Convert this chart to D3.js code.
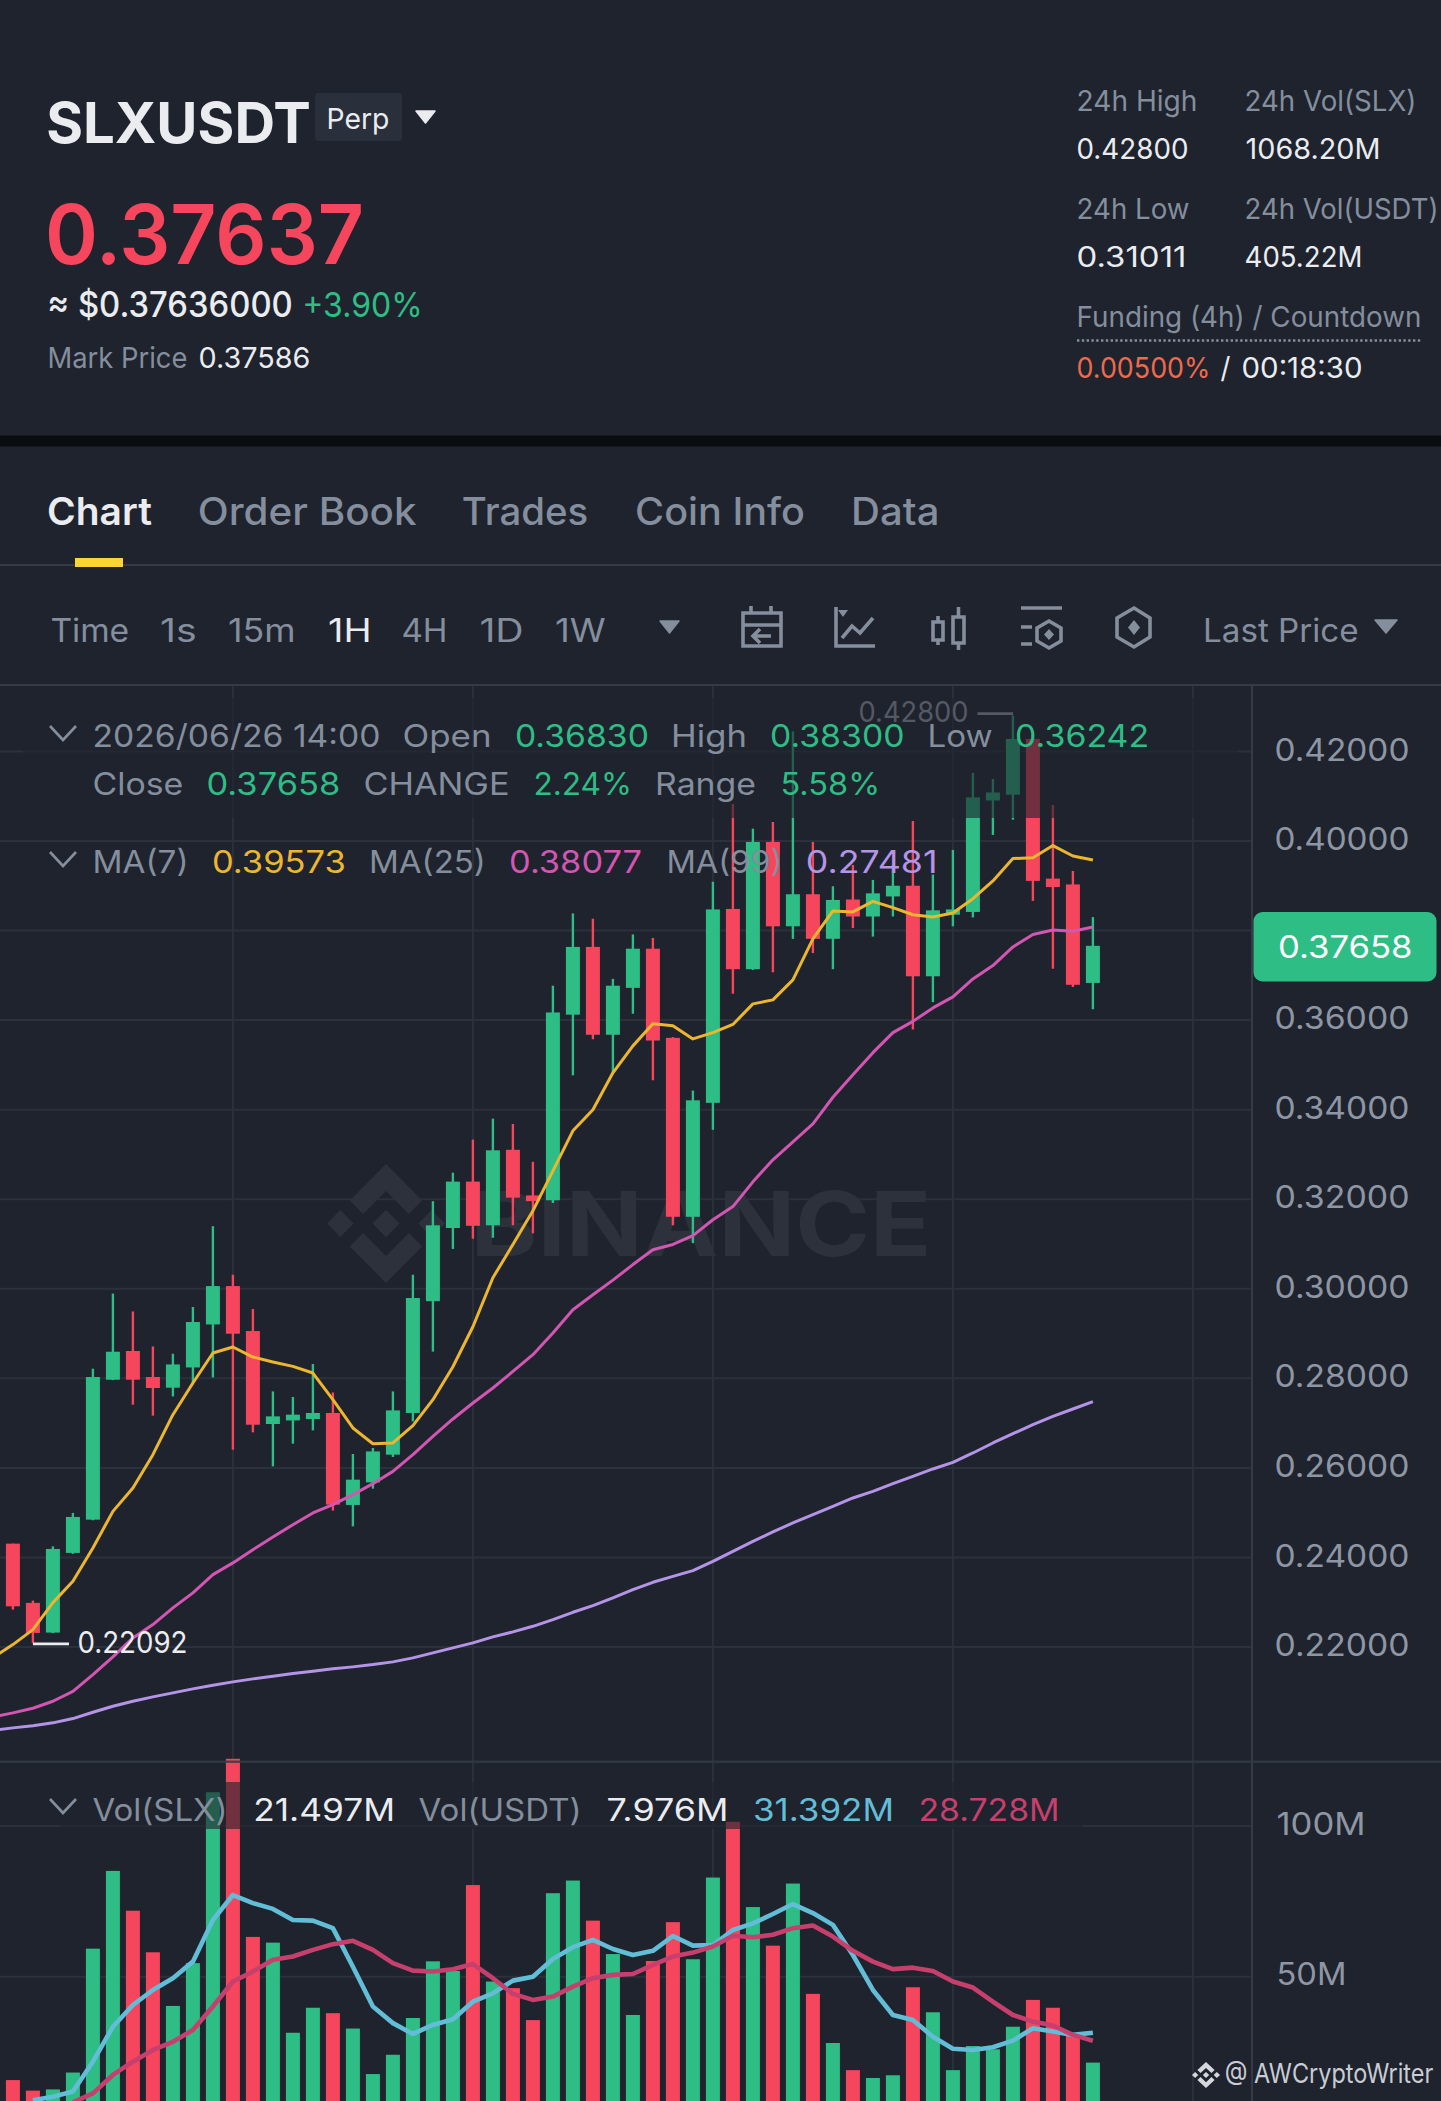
<!DOCTYPE html>
<html><head><meta charset="utf-8"><title>SLXUSDT</title>
<script src="https://cdn.jsdelivr.net/npm/d3@7/dist/d3.min.js"></script>
<style>html,body{margin:0;padding:0;background:#1e232d;overflow:hidden}svg{display:block}</style>
</head><body><div id="c"></div>
<script>
const opens=[.24308,.22985,.22322,.24101,.24844,.27969,.28610,.28029,.27791,.28243,.29203,.30060,.29056,.26980,.27060,.27092,.27226,.25172,.25676,.26295,.27226,.29723,.31357,.32393,.31417,.33103,.32085,.31976,.36121,.37634,.35672,.36719,.37594,.35603,.31607,.34152,.38482,.37136,.39978,.38094,.38810,.37815,.38692,.38313,.38761,.39000,.36978,.38353,.38415,.40904,.41033,.42279,.39159,.39029,.36830];
const closes=[.22909,.22315,.24190,.24904,.28029,.28594,.27969,.27784,.28310,.29257,.30060,.28996,.26964,.27150,.27188,.27226,.25179,.25737,.26368,.27284,.29793,.31417,.32393,.31406,.33092,.32034,.31956,.36170,.37634,.35672,.36768,.37594,.35543,.31607,.34208,.38471,.37136,.39978,.38094,.38810,.37815,.38683,.38313,.38830,.39000,.36978,.38451,.38471,.40973,.41083,.42279,.39109,.38971,.36788,.37658];
const highs=[.24308,.23036,.24248,.24994,.28215,.29893,.29494,.28712,.28549,.29592,.31398,.30313,.29547,.27708,.27583,.28319,.27685,.26310,.26445,.27708,.30313,.31956,.32592,.33331,.33799,.33679,.32835,.36768,.38382,.38263,.36920,.37913,.37835,.35620,.34426,.39089,.40826,.40275,.40424,.42449,.39978,.38989,.39464,.39130,.39464,.40446,.39250,.39799,.41520,.41384,.42800,.42280,.40804,.39330,.38300];
const lows=[.22835,.22092,.22310,.24080,.24830,.27960,.27411,.27166,.27596,.27895,.28020,.26406,.26793,.26034,.26540,.26837,.25045,.24694,.25536,.26243,.27038,.28596,.30889,.31118,.31138,.31417,.31237,.31915,.34766,.35571,.34824,.36141,.34656,.31417,.31018,.33549,.36589,.37120,.37067,.37813,.37496,.37136,.38054,.37864,.38313,.35790,.36400,.38094,.38292,.40134,.40475,.38661,.37147,.36739,.36242];
const ma7=[.21764,.22054,.22389,.22991,.23467,.24212,.25029,.25551,.26295,.27188,.27895,.28565,.28699,.28475,.28364,.28266,.28118,.27523,.26891,.26540,.26556,.26942,.27523,.28259,.29152,.30246,.30989,.31741,.32634,.33527,.33996,.34822,.35424,.35920,.35871,.35580,.35721,.35902,.36362,.36451,.36897,.37813,.38438,.38415,.38652,.38511,.38353,.38304,.38393,.38710,.39107,.39607,.39627,.39897,.39665,.39573];
const ma25=[.20440,.20529,.20632,.20788,.21011,.21384,.21779,.22203,.22500,.22873,.23208,.23616,.23878,.24174,.24458,.24732,.24994,.25179,.25402,.25647,.25922,.26295,.26703,.27092,.27449,.27784,.28154,.28527,.29011,.29531,.29866,.30192,.30540,.30871,.30989,.31188,.31540,.31835,.32388,.32880,.33281,.33683,.34277,.34777,.35272,.35721,.35971,.36272,.36518,.36920,.37217,.37634,.37913,.38013,.37984,.38077];
const ma99=[.20141,.20194,.20239,.20306,.20402,.20543,.20677,.20788,.20886,.20976,.21065,.21145,.21221,.21288,.21346,.21407,.21458,.21512,.21556,.21607,.21668,.21757,.21869,.21980,.22092,.22226,.22337,.22462,.22612,.22775,.22924,.23096,.23281,.23445,.23578,.23705,.23913,.24136,.24359,.24569,.24770,.24955,.25141,.25328,.25476,.25647,.25810,.25976,.26123,.26333,.26556,.26764,.26964,.27150,.27315,.27481];
const volumes=[15.7,12.2,12.6,18.2,59.3,85.1,71.9,58.1,40.3,54.5,111.2,122.3,63.2,61.3,31.4,39.7,37.9,32.8,17.7,24.1,36.3,55.1,51.9,80.4,48.4,46.2,35.6,77.7,81.9,68.6,57.5,37.3,55.2,68.1,55.8,82.9,101.4,73.1,60.3,80.9,44.3,28,19,16.4,17.3,46.5,38.2,19,27,25.9,33.4,42.3,39.7,31.2,21.497];
const volMaFast=[null,9,10.2,11.9,21.8,33.4,40.6,45.6,49.5,55,68.8,77.1,74.4,72.5,68.8,68.6,66.1,53.3,40.1,34.6,31,34,35.9,41.7,44.5,48.7,50,55.9,59.8,62.2,59.2,57.2,58.6,63.5,60.3,60.5,65.5,67.7,70.8,74.1,71.1,67.2,57.2,45.6,37.3,35.6,30.1,26.1,25.7,26.6,28.8,32.9,31.8,30.7,31.392];
const volMaSlow=[null,null,null,8.3,11.3,17.4,21.8,25.7,28.4,32.3,40.1,48.4,51.7,55.6,56.7,58.9,60.8,61.9,58.9,54.5,52,51.7,52.5,54.2,49.5,44.3,42.3,43.4,46.7,49.5,50.6,50.9,53.9,56.7,58,60,63.6,63.1,63.9,66.1,67,63.3,58.6,55,52.5,53,51.9,48.4,46.4,41.7,37.3,35.1,33.8,30.7,28.728];
const priceTicks=[.22,.24,.26,.28,.30,.32,.34,.36,.38,.40,.42];
const volTicks=[50,100];

const W=1441,H=2101,BG='#1e232d',GREEN='#2ebd85',RED='#f6465d',GREY='#848e9c',TXT='#eaecef',LINE='#2b313c',RULE='#343b47';
const YEL='#ecb62f',PNK='#d256b2',PUR='#b594e8',CYA='#62bdd7',CRM='#c63f6d';
const FONT='Inter, "Noto Sans", sans-serif';
const svg=d3.select('#c').append('svg').attr('width',W).attr('height',H).attr('viewBox',`0 0 ${W} ${H}`).style('font-family',FONT);
svg.append('rect').attr('width',W).attr('height',H).attr('fill',BG);

const x=d3.scaleLinear().domain([0,54]).range([12.9,1092.9]);
const y=d3.scaleLinear().domain([.22,.42]).range([1647,751.4]);
const yv=d3.scaleLinear().domain([0,100]).range([2127.4,1826]);
const AX=1252;

function txt(g,x0,x1,b,s,size,fill,w){
  const pad=size*.05;
  return g.append('text').attr('x',x0-pad).attr('y',b).attr('font-size',size).attr('font-weight',w||400).attr('fill',fill)
    .attr('textLength',x1-x0+2*pad).attr('lengthAdjust','spacingAndGlyphs').text(s);
}
const BLOGO=['M38.73 53.2l24.59-24.58 24.6 24.6 14.3-14.31L63.32 0 24.43 38.9z','M0 63.31 14.3 49l14.31 14.31-14.31 14.3z','M38.73 73.41l24.59 24.59 24.6-24.6 14.31 14.29-38.9 38.91-38.91-38.88v-.03z','M97.99 63.31l14.3-14.31 14.32 14.31-14.31 14.3z','M77.83 63.3L63.32 48.78 52.59 59.51l-1.24 1.23-2.54 2.54 14.51 14.53 14.51-14.51z'];
function logo(g,lx,ly,w,h,fill){
  const n=g.append('g').attr('transform',`translate(${lx},${ly}) scale(${w/126.6},${h/126.6})`);
  BLOGO.forEach(d=>n.append('path').attr('d',d).attr('fill',fill));
}
function tri(g,a,b,t,bt,fill){
  g.append('path').attr('d',`M${a} ${t}L${b} ${t}L${(a+b)/2} ${bt}Z`).attr('fill',fill).attr('stroke',fill).attr('stroke-width',1.5).attr('stroke-linejoin','round');
}
function chev(g,t){
  g.append('path').attr('d',`M50 ${t}L63 ${t+14}L76 ${t}`).attr('fill','none').attr('stroke',GREY).attr('stroke-width',2.6);
}

/* header */
const head=svg.append('g');
txt(head,49,308,143,'SLXUSDT',56,TXT,700);
head.append('rect').attr('x',315).attr('y',93).attr('width',87).attr('height',48).attr('rx',4).attr('fill','#29303c');
txt(head,328,388,129,'Perp',29,TXT);
tri(head,416,435,111,123,TXT);
txt(head,49,360,264,'0.37637',82,RED,600);
txt(head,49,291,317,'≈ $0.37636000',35,TXT,500);
txt(head,304,421,317,'+3.90%',34,GREEN,400);
txt(head,49,186,368,'Mark Price',29,GREY);
txt(head,200,309,368,'0.37586',29,TXT);
txt(head,1078,1196,111,'24h High',29,GREY);
txt(head,1246,1415,111,'24h Vol(SLX)',29,GREY);
txt(head,1078,1187,159,'0.42800',29,TXT);
txt(head,1247,1379,159,'1068.20M',29,TXT);
txt(head,1078,1188,219,'24h Low',29,GREY);
txt(head,1246,1437,219,'24h Vol(USDT)',29,GREY);
txt(head,1078,1185,267,'0.31011',29,TXT);
txt(head,1246,1361,267,'405.22M',29,TXT);
txt(head,1078,1420,326.5,'Funding (4h) / Countdown',29,GREY);
head.append('line').attr('x1',1077).attr('x2',1422).attr('y1',340.5).attr('y2',340.5).attr('stroke',GREY).attr('stroke-width',2.4).attr('stroke-dasharray','2.4 2.4');
txt(head,1078,1209,377.6,'0.00500%',29,'#ee6a4c');
txt(head,1222,1229,377.6,'/',29,TXT);
txt(head,1243,1361,377.6,'00:18:30',29,TXT);
head.append('rect').attr('x',0).attr('y',435.5).attr('width',W).attr('height',11).attr('fill','#0a0d10');

/* tabs */
txt(head,49,150,525,'Chart',38,TXT,600);
txt(head,199.7,414.6,525,'Order Book',38,GREY,500);
txt(head,463.7,586.3,525,'Trades',38,GREY,500);
txt(head,637,803,525,'Coin Info',38,GREY,500);
txt(head,853,937.5,525,'Data',38,GREY,500);
head.append('rect').attr('x',0).attr('y',564).attr('width',W).attr('height',2).attr('fill',RULE);
head.append('rect').attr('x',75).attr('y',558).attr('width',48).attr('height',9).attr('fill','#fcd535');

/* toolbar */
[['Time',52,127.6,GREY],['1s',161.6,195,GREY],['15m',229.6,294,GREY],['1H',329.7,370,TXT],['4H',403,446,GREY],['1D',481,522,GREY],['1W',556.5,604,GREY],['Last Price',1204.7,1357,GREY]]
 .forEach(d=>txt(head,d[1],d[2],641.7,d[0],32,d[3]));
tri(head,660,679,621,633,GREY);
tri(head,1375,1397,620,633,GREY);
const ic=head.append('g').attr('fill','none').attr('stroke',GREY).attr('stroke-width',3.6);
ic.append('path').attr('d','M743 613H781V646H743ZM743 625H781M751 606V613M771 606V613M771 636H753M760 629L753 636L760 643');
ic.append('path').attr('d','M836 607V646H875M842 638L852 626L860 633L873 618');
ic.append('path').attr('d','M838 610L848 610L843 617Z').attr('fill',GREY).attr('stroke','none');
ic.append('path').attr('d','M933 622H943V640H933ZM938 616V622M938 640V645M953 617H964V643H953ZM958.5 607V617M958.5 643V650');
ic.append('path').attr('d','M1021 608H1062M1021 627H1032M1021 644H1032M1049 621L1061 628V641L1049 648L1037 641V628Z');
ic.append('path').attr('d','M1049 629L1054 634.5L1049 640L1044 634.5Z').attr('fill',GREY).attr('stroke','none');
ic.append('path').attr('d','M1134 608L1150 618V637L1134 647L1117 637V618Z');
ic.append('path').attr('d','M1134 620L1140 627.5L1134 635L1128 627.5Z').attr('fill',GREY).attr('stroke','none');
head.append('rect').attr('x',0).attr('y',684).attr('width',W).attr('height',2).attr('fill',RULE);

/* grid */
const grid=svg.append('g').attr('stroke',LINE).attr('stroke-width',2);
grid.selectAll('.h').data(priceTicks).join('line').attr('x1',0).attr('x2',AX).attr('y1',d=>y(d)).attr('y2',d=>y(d));
grid.selectAll('.v').data([11,23,35,47,59]).join('line').attr('x1',d=>x(d)).attr('x2',d=>x(d)).attr('y1',686).attr('y2',H);
grid.selectAll('.vh').data(volTicks).join('line').attr('x1',0).attr('x2',AX).attr('y1',d=>yv(d)).attr('y2',d=>yv(d));

/* watermark */
const wm=svg.append('g');
logo(wm,327,1164,118,119,'#2c313c');
txt(wm,475,927,1256,'BINANCE',89,'#2c313c',700);

/* candles */
const n=d3.range(opens.length);
const col=i=>closes[i]>=opens[i]?GREEN:RED;
const cg=svg.append('g');
cg.selectAll('.w').data(n).join('line').attr('x1',x).attr('x2',x).attr('y1',i=>y(highs[i])).attr('y2',i=>y(lows[i])).attr('stroke',col).attr('stroke-width',2.4);
cg.selectAll('.b').data(n).join('rect').attr('x',i=>x(i)-7).attr('width',14).attr('y',i=>Math.min(y(opens[i]),y(closes[i]))).attr('height',i=>Math.max(3,Math.abs(y(opens[i])-y(closes[i])))).attr('fill',col);

/* MA lines: the first point of each lies one bar before the first candle */
const maLine=d3.line().x((d,i)=>x(i-1)).y(d=>y(d));
[[ma99,PUR],[ma25,PNK],[ma7,YEL]].forEach(([s,c])=>{
  svg.append('path').attr('d',maLine(s)).attr('fill','none').attr('stroke',c).attr('stroke-width',3).attr('stroke-linejoin','round');
});

/* extreme markers */
const hiG=svg.append('g');
hiG.append('line').attr('x1',977.5).attr('x2',1013).attr('y1',y(.428)-2).attr('y2',y(.428)-2).attr('stroke','#aab0ba').attr('stroke-width',2.6);
txt(hiG,860,967,722.4,'0.42800',29,'#aab0ba');
const loG=svg.append('g');
loG.append('line').attr('x1',x(1)).attr('x2',69).attr('y1',y(.22092)+1).attr('y2',y(.22092)+1).attr('stroke',TXT).attr('stroke-width',2.6);
txt(loG,79,186,1652.7,'0.22092',30,TXT);

/* volume */
const vg=svg.append('g');
vg.selectAll('rect').data(n).join('rect').attr('x',i=>x(i)-7).attr('width',14).attr('y',i=>yv(volumes[i])).attr('height',i=>yv(0)-yv(volumes[i])).attr('fill',col);
vg.append('rect').attr('x',0).attr('y',1760.5).attr('width',W).attr('height',2.4).attr('fill',RULE).attr('fill-opacity',.85);
const vLine=d3.line().defined(d=>d!=null).x((d,i)=>x(i)).y(d=>yv(d));
[[volMaFast,CYA],[volMaSlow,CRM]].forEach(([s,c])=>{
  vg.append('path').attr('d',vLine(s)).attr('fill','none').attr('stroke',c).attr('stroke-width',4.6).attr('stroke-linejoin','round');
});

/* legend veils */
svg.append('rect').attr('x',23).attr('y',698).attr('width',1215).attr('height',120).attr('fill',BG).attr('fill-opacity',.62);
svg.append('rect').attr('x',60).attr('y',1782).attr('width',1023).attr('height',47).attr('fill',BG).attr('fill-opacity',.62);

/* axes */
svg.append('rect').attr('x',AX-1).attr('y',686).attr('width',2).attr('height',H-686).attr('fill',RULE);
function styleAxis(g,dy){
  g.select('.domain').remove();
  g.selectAll('.tick line').remove();
  g.selectAll('.tick text').attr('fill','#8f96a3').attr('font-size',31).attr('font-family',FONT).attr('text-anchor','start').attr('dy',dy);
}
const ax=svg.append('g').attr('transform','translate(1274.5,0)').call(d3.axisRight(y).tickValues(priceTicks).tickFormat(d3.format('.5f')).tickSize(0).tickPadding(0));
styleAxis(ax,8.6);
ax.selectAll('.tick text').attr('textLength',135).attr('lengthAdjust','spacingAndGlyphs');
const axv=svg.append('g').attr('transform','translate(1276.5,0)').call(d3.axisRight(yv).tickValues(volTicks).tickFormat(d=>d+'M').tickSize(0).tickPadding(0));
styleAxis(axv,8.2);
axv.selectAll('.tick text').attr('textLength',d=>d==100?89:70).attr('lengthAdjust','spacingAndGlyphs');

/* price tag */
svg.append('rect').attr('x',1253.5).attr('y',912).attr('width',183).attr('height',69.5).attr('rx',9).attr('fill',GREEN);
txt(svg,1279.6,1411,957.7,'0.37658',31,'#ffffff');

/* legends */
const leg=svg.append('g');
chev(leg,726);
chev(leg,852);
chev(leg,1799);
[['2026/06/26 14:00',94,379,GREY],['Open',404,490,GREY],['0.36830',516.5,647.4,GREEN],['High',672.6,745.3,GREY],['0.38300',771.5,903,GREEN],['Low',929,991,GREY],['0.36242',1016.6,1147.6,GREEN]]
 .forEach(d=>txt(leg,d[1],d[2],747,d[0],31,d[3]));
[['Close',94,181.8,GREY],['0.37658',208,338.8,GREEN],['CHANGE',365,508,GREY],['2.24%',535,630.4,GREEN],['Range',656.6,754.5,GREY],['5.58%',782,878.6,GREEN]]
 .forEach(d=>txt(leg,d[1],d[2],794.7,d[0],31,d[3]));
[['MA(7)',94,187,GREY],['0.39573',213.5,344.3,YEL],['MA(25)',370.5,484.4,GREY],['0.38077',510.6,640.5,PNK],['MA(99)',668,781,GREY],['0.27481',807.4,936,PUR]]
 .forEach(d=>txt(leg,d[1],d[2],872.9,d[0],31,d[3]));
[['Vol(SLX)',94,226,GREY],['21.497M',254.8,393.5,TXT],['Vol(USDT)',420,580,GREY],['7.976M',608,727,TXT],['31.392M',754.5,892.4,CYA],['28.728M',920,1058,CRM]]
 .forEach(d=>txt(leg,d[1],d[2],1820.7,d[0],31,d[3]));

/* attribution */
logo(svg,1192,2062,28,26,'#d4d7dc');
txt(svg,1226,1432,2083,'@ AWCryptoWriter',27,'#c9cdd3');
</script></body></html>
